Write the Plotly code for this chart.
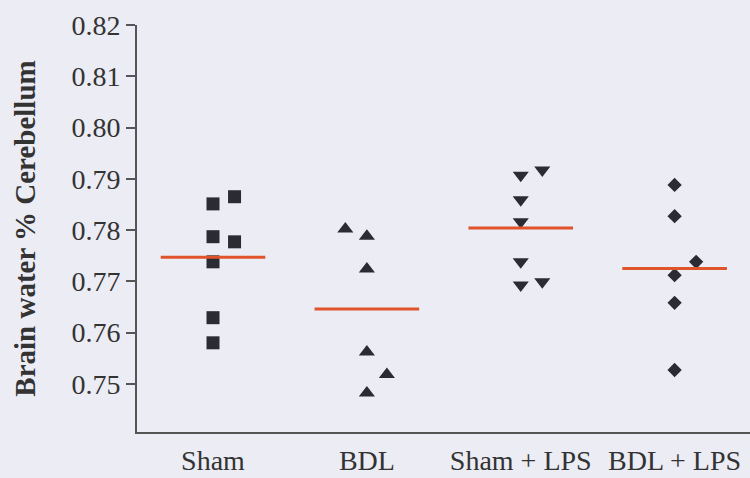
import numpy as np
import plotly.graph_objects as go

categories = ["Sham", "BDL", "Sham + LPS", "BDL + LPS"]

sham_vals = [0.7851, 0.7787, 0.7738, 0.7629, 0.7580, 0.7865, 0.7777]
sham_off = [0, 0, 0, 0, 0, 0.14, 0.14]
bdl_vals = [0.7802, 0.7788, 0.7724, 0.7562, 0.7518, 0.7482]
bdl_off = [-0.14, 0, 0, 0, 0.13, 0]
shamlps_vals = [0.7907, 0.7917, 0.7859, 0.7816, 0.7738, 0.7693, 0.7699]
shamlps_off = [0, 0.14, 0, 0, 0, 0, 0.14]
bdllps_vals = [0.7888, 0.7827, 0.7738, 0.7712, 0.7658, 0.7527]
bdllps_off = [0, 0, 0.14, 0, 0, 0]

groups = [
    (sham_vals, sham_off, "square", 13),
    (bdl_vals, bdl_off, "triangle-up", 14),
    (shamlps_vals, shamlps_off, "triangle-down", 14),
    (bdllps_vals, bdllps_off, "diamond", 11),
]

y_ticks = [0.75, 0.76, 0.77, 0.78, 0.79, 0.80, 0.81, 0.82]

fig = go.Figure()
for i, (vals, off, sym, sz) in enumerate(groups):
    xs = [i + o for o in off]
    fig.add_trace(go.Scatter(x=xs, y=vals, mode="markers",
                             marker=dict(symbol=sym, size=sz, color="#2b2b33"),
                             showlegend=False))
for i, (vals, off, sym, sz) in enumerate(groups):
    m = float(np.mean(vals))
    fig.add_trace(go.Scatter(x=[i - 0.34, i + 0.34], y=[m, m], mode="lines",
                             line=dict(color="#e0532b", width=3),
                             showlegend=False))

fig.update_layout(
    width=750, height=478,
    margin=dict(l=137, r=0, t=25, b=46),
    paper_bgcolor="#ececf4",
    plot_bgcolor="#ececf4",
    font=dict(family="Liberation Serif", color="#333333"),
    xaxis=dict(range=[-0.494, 3.49], tickmode="array", tickvals=[0, 1, 2, 3],
               ticktext=categories, showgrid=False, zeroline=False,
               showline=True, linecolor="#555555", linewidth=2,
               ticks="outside", ticklen=2, tickcolor="rgba(0,0,0,0)",
               tickfont=dict(size=28, color="#333333"), automargin=False),
    yaxis=dict(range=[0.7406, 0.82], tickmode="array", tickvals=y_ticks,
               ticktext=[f"{v:.2f}" for v in y_ticks], showgrid=False,
               zeroline=False, showline=True, linecolor="#555555", linewidth=2,
               ticks="outside", ticklen=9, tickwidth=2, tickcolor="#555555",
               tickfont=dict(size=28, color="#333333"), automargin=False,
               title=dict(text="<b>Brain water % Cerebellum</b>",
                          font=dict(size=29, color="#333333"), standoff=27)),
)

fig.write_html("out.html", config={"displayModeBar": False},
               post_script="document.body.style.margin='0';document.body.style.overflow='hidden';")
